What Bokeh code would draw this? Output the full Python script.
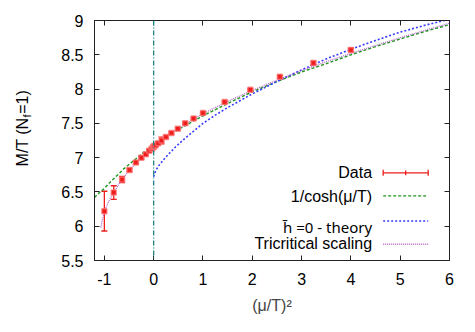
import math
from bokeh.plotting import figure
from bokeh.layouts import row
from bokeh.models import (Range1d, FixedTicker, LinearAxis, Span, Whisker, TeeHead,
                          ColumnDataSource, Label, Arrow, CustomJSTickFormatter)
from bokeh.embed import file_html
from bokeh.resources import INLINE

# ---- data ----
mu2 = [-1.0, -0.81, -0.64, -0.49, -0.36, -0.25, -0.16, -0.09, -0.04, -0.01, 0.0,
       0.01, 0.04, 0.09, 0.16, 0.25, 0.36, 0.49, 0.64, 0.81, 1.0, 1.44, 1.96, 2.56, 3.24, 4.0]
mt = [6.22, 6.49, 6.68, 6.82, 6.93, 7.00, 7.05, 7.10, 7.13, 7.15, 7.16,
      7.17, 7.18, 7.21, 7.25, 7.30, 7.36, 7.42, 7.50, 7.57, 7.65, 7.81, 7.99, 8.18, 8.38, 8.57]
mt_err = [0.29, 0.10, 0.045, 0.022, 0.02, 0.02, 0.015, 0.015, 0.015, 0.015, 0.015,
          0.015, 0.015, 0.02, 0.05, 0.02, 0.015, 0.015, 0.015, 0.015, 0.015, 0.015, 0.015, 0.02, 0.025, 0.025]

cosh_x = [-1.2, -1.1, -1.0, -0.9, -0.8, -0.6, -0.4, -0.2, 0.0, 0.25, 0.5, 0.75, 1.0,
          1.5, 2.0, 2.5, 3.0, 3.5, 4.0, 4.5, 5.0, 5.5, 6.0]
cosh_y = [6.42, 6.49, 6.55, 6.63, 6.70, 6.84, 6.96, 7.08, 7.18, 7.30, 7.41, 7.51, 7.61,
          7.79, 7.96, 8.11, 8.25, 8.37, 8.50, 8.62, 8.73, 8.84, 8.94]

theory_x = [0.0, 0.02, 0.05, 0.1, 0.2, 0.3, 0.45, 0.6, 0.8, 1.0, 1.25, 1.5, 2.0, 2.5,
            3.0, 3.5, 4.0, 4.5, 5.0, 5.5, 6.0]
theory_y = [6.72, 6.77, 6.82, 6.88, 6.97, 7.05, 7.16, 7.26, 7.38, 7.50, 7.62, 7.73, 7.93, 8.11,
            8.28, 8.44, 8.58, 8.71, 8.83, 8.93, 9.02]

tri_x = [-1.07, -1.05, -1.02, -1.0, -0.95, -0.9, -0.8, -0.7, -0.6, -0.5, -0.4, -0.3, -0.2, -0.1,
         0.0, 0.25, 0.5, 1.0, 1.5, 2.0, 2.5, 3.0, 3.5, 4.0, 5.0, 6.0]
tri_y = [5.98, 6.07, 6.15, 6.20, 6.30, 6.38, 6.51, 6.62, 6.72, 6.81, 6.89, 6.96, 7.03, 7.10,
         7.17, 7.31, 7.43, 7.64, 7.82, 7.98, 8.13, 8.27, 8.40, 8.52, 8.75, 8.96]

x_ticks = [-1, 0, 1, 2, 3, 4, 5, 6]
y_ticks = [5.5, 6, 6.5, 7, 7.5, 8, 8.5, 9]

legend_labels = ["Data", "1/cosh(\u03bc/T)", "h\u0304 =0 - theory", "Tricritical scaling"]
ylabel_parts = ["M/T (N", "f", "=1)"]

# ---- styles ----
FONT = "Liberation Sans"
FS = "16px"
RED = "#ee1c1c"
GREEN = "#1e961e"
BLUE = "#3a3aff"
PURPLE = "#b468c8"
TEAL = "#1d8585"
AX = "#222222"

TOTAL_W, TOTAL_H = 467, 324
LW = 40  # width of the strip holding the rotated y-axis title

p = figure(width=TOTAL_W - LW, height=TOTAL_H, output_backend="svg", toolbar_location=None,
           x_range=Range1d(-1.2, 6), y_range=Range1d(5.5, 9),
           min_border_left=94 - LW, min_border_right=18, min_border_top=20, min_border_bottom=64,
           background_fill_color="white", border_fill_color="white")
p.grid.visible = False
p.outline_line_color = AX

fmt = CustomJSTickFormatter(code="return String(tick);")
blank = CustomJSTickFormatter(code="return '';")


def style_axis(ax, ticks, show):
    ax.ticker = FixedTicker(ticks=ticks)
    ax.formatter = fmt if show else blank
    ax.major_tick_in = 5
    ax.major_tick_out = 0
    ax.minor_tick_in = 0
    ax.minor_tick_out = 0
    ax.axis_line_color = AX
    ax.major_tick_line_color = AX
    ax.major_label_text_font = FONT
    ax.major_label_text_font_size = FS
    ax.major_label_text_color = "black"


style_axis(p.xaxis[0], x_ticks, True)
style_axis(p.yaxis[0], y_ticks, True)
p.xaxis[0].major_label_standoff = 12
p.yaxis[0].major_label_standoff = 11
p.xaxis[0].axis_label = "(\u03bc/T)\u00b2"
p.xaxis[0].axis_label_text_font = FONT
p.xaxis[0].axis_label_text_font_size = FS
p.xaxis[0].axis_label_text_font_style = "normal"
p.xaxis[0].axis_label_standoff = 9

top = LinearAxis()
style_axis(top, x_ticks, False)
right = LinearAxis()
style_axis(right, y_ticks, False)
p.add_layout(top, "above")
p.add_layout(right, "right")

# vertical line at mu^2 = 0
p.add_layout(Span(location=0, dimension="height", line_color=TEAL, line_width=1.3,
                  line_dash="5 2 1 2"))

# curves
p.line(cosh_x, cosh_y, line_color=GREEN, line_width=1.4, line_dash="3 2")
p.line(theory_x, theory_y, line_color=BLUE, line_width=1.6, line_dash="2 2")
p.line(tri_x, tri_y, line_color=PURPLE, line_width=1.3, line_dash="1 1")

# data with error bars
lo = [m - e for m, e in zip(mt, mt_err)]
hi = [m + e for m, e in zip(mt, mt_err)]
src = ColumnDataSource(dict(x=mu2, y=mt, lo=lo, hi=hi))
p.add_layout(Whisker(base="x", upper="hi", lower="lo", source=src, line_color=RED, line_width=1.3,
                     upper_head=TeeHead(size=6, line_color=RED, line_width=1.3),
                     lower_head=TeeHead(size=6, line_color=RED, line_width=1.3)))
p.scatter("x", "y", source=src, marker="square", size=5, fill_color=RED, line_color="#ff7070",
          line_alpha=0.7, line_width=1.5)

# ---- legend (text, then sample to its right) ----
lx_text = 4.43
lx0, lx1 = 4.655, 5.568
text_y = [6.779, 6.428, 5.99, 5.741]
samp_y = [6.779, 6.443, 6.077, 5.737]
for i, (lab, ty) in enumerate(zip(legend_labels, text_y)):
    font = "Noto Sans" if i == 2 else FONT
    fsz = "15px" if i == 2 else FS
    p.add_layout(Label(x=lx_text, y=ty, text=lab, text_align="right", text_baseline="middle",
                       text_font=font, text_font_size=fsz, text_color="black"))

p.add_layout(Arrow(x_start=lx0, y_start=samp_y[0], x_end=lx1, y_end=samp_y[0],
                   line_color=RED, line_width=1.3,
                   start=TeeHead(size=6, line_color=RED, line_width=1.3),
                   end=TeeHead(size=6, line_color=RED, line_width=1.3)))
p.add_layout(Arrow(x_start=(lx0 + lx1) / 2, y_start=samp_y[0] - 0.035,
                   x_end=(lx0 + lx1) / 2, y_end=samp_y[0] + 0.035,
                   line_color=RED, line_width=1.3, end=None))
for yy, col, dash, lw in [(samp_y[1], GREEN, "3 2", 1.4), (samp_y[2], BLUE, "2 2", 1.6),
                          (samp_y[3], PURPLE, "1 1", 1.3)]:
    p.add_layout(Arrow(x_start=lx0, y_start=yy, x_end=lx1, y_end=yy, line_color=col,
                       line_width=lw, line_dash=dash, end=None))

# ---- strip with the rotated y-axis title: M/T (N_f=1) ----
# pixel-like coordinates: x from left, y from top
q = figure(width=LW, height=TOTAL_H, output_backend="svg", toolbar_location=None,
           x_range=Range1d(0, LW), y_range=Range1d(TOTAL_H, 0),
           x_axis_location=None, y_axis_location=None,
           min_border=0, min_border_left=0, min_border_right=0, min_border_top=0,
           min_border_bottom=0, background_fill_color="white", border_fill_color="white")
q.grid.visible = False
q.outline_line_color = None
# main part ends where the subscript begins; subscript and the rest start there
q.add_layout(Label(x=22, y=131, text=ylabel_parts[0], angle=math.pi / 2, text_align="right",
                   text_baseline="middle", text_font=FONT, text_font_size=FS, text_color="black"))
q.add_layout(Label(x=26, y=131, text=ylabel_parts[1], angle=math.pi / 2, text_align="left",
                   text_baseline="middle", text_font=FONT, text_font_size="11px", text_color="black"))
q.add_layout(Label(x=22, y=126, text=ylabel_parts[2], angle=math.pi / 2, text_align="left",
                   text_baseline="middle", text_font=FONT, text_font_size=FS, text_color="black"))

layout = row(q, p, spacing=0)
open("out.html", "w").write(file_html(layout, INLINE))
